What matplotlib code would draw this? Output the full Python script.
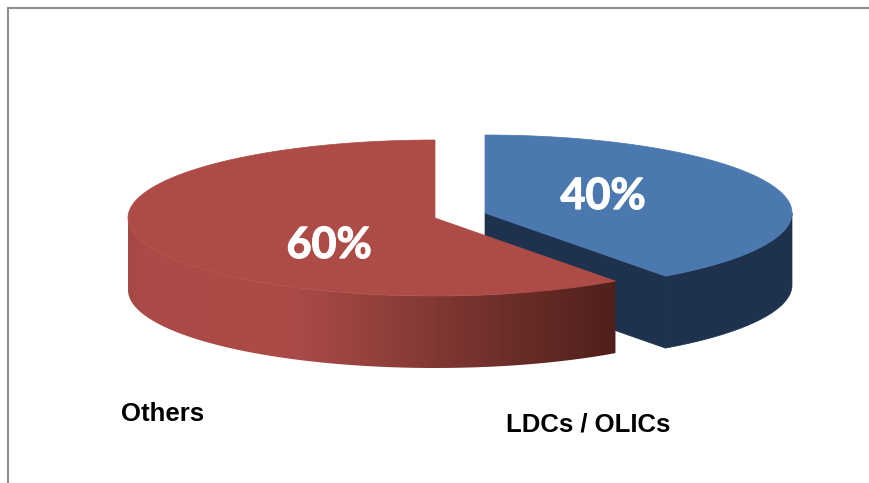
import numpy as np
from matplotlib import pyplot as plt
from matplotlib.patches import Polygon
from matplotlib.colors import LinearSegmentedColormap
import matplotlib.patheffects as pe

labels = ['LDCs / OLICs', 'Others']
shares = [40, 60]
pct_labels = ['40%', '60%']

# pie is drawn by hand because plt.pie has no 3D look
W, H = 869, 483
rx, ry = 307, 78
depth = 72
blue_c = (485, 213)
red_c = (435, 218)


def arc(c, a0, a1, dy=0):
    # angles clockwise from 12 o'clock, in degrees
    t = np.radians(np.linspace(a0, a1, 200))
    return np.column_stack([c[0] + rx * np.sin(t), c[1] - ry * np.cos(t) + dy])


def front_wall(c, a0, a1):
    return np.vstack([arc(c, a0, a1), arc(c, a0, a1, depth)[::-1]])


fig = plt.figure(figsize=(W / 100, H / 100), dpi=100)
ax = fig.add_axes([0, 0, 1, 1])
ax.set_xlim(0, W)
ax.set_ylim(H, 0)
ax.axis('off')

# frame of the chart area, only top and left show
ax.plot([8, 8, W], [H, 8, 8], color='#8e8e8e', lw=1.5, solid_joinstyle='miter')

split = shares[0] / sum(shares) * 360

# blue slice
navy = '#1e324e'
ax.add_patch(Polygon(front_wall(blue_c, 90, split), fc=navy, ec=navy, lw=0.5))
tip = arc(blue_c, split, split)[0]
ax.add_patch(Polygon([blue_c, tip, tip + [0, depth], (blue_c[0], blue_c[1] + depth)], fc=navy, ec=navy, lw=0.5))
ax.add_patch(Polygon(np.vstack([[blue_c], arc(blue_c, 0, split)]), fc='#4a78af', ec='#4a78af', lw=0.5))

# red slice, wall gets a dark gradient to the right
wall_x0 = red_c[0] - rx
wall_x1 = arc(red_c, split, split)[0][0]
cmap = LinearSegmentedColormap.from_list('wall', [
    (0.00, '#a34844'), (0.03, '#ab4a46'), (0.30, '#ad4b47'), (0.36, '#a84a46'),
    (0.60, '#863a36'), (0.78, '#6c2e2a'), (1.00, '#4f201b')])
wall = Polygon(front_wall(red_c, split, 270), fc='none', ec='none')
ax.add_patch(wall)
im = ax.imshow(np.linspace(0, 1, 256)[None, :], cmap=cmap, aspect='auto',
               extent=(wall_x0, wall_x1, 400, 200), zorder=1.5)
im.set_clip_path(wall)
ax.set_xlim(0, W)
ax.set_ylim(H, 0)
ax.add_patch(Polygon(np.vstack([[red_c], arc(red_c, split, 360)]), fc='#ad4b47', ec='#ad4b47', lw=0.5, zorder=2))

heavy = [pe.withStroke(linewidth=0.9, foreground='white')]
ax.text(603, 196, pct_labels[0], color='white', fontsize=31, fontweight='bold',
        family='Lato', ha='center', va='center', zorder=3, path_effects=heavy)
ax.text(329, 245, pct_labels[1], color='white', fontsize=31, fontweight='bold',
        family='Lato', ha='center', va='center', zorder=3, path_effects=heavy)

ax.text(588.5, 425, labels[0], color='black', fontsize=18.5, fontweight='bold',
        family='Liberation Sans', ha='center', va='center')
ax.text(163, 414, labels[1], color='black', fontsize=18.5, fontweight='bold',
        family='Liberation Sans', ha='center', va='center')

plt.savefig('out.png', dpi=100)
